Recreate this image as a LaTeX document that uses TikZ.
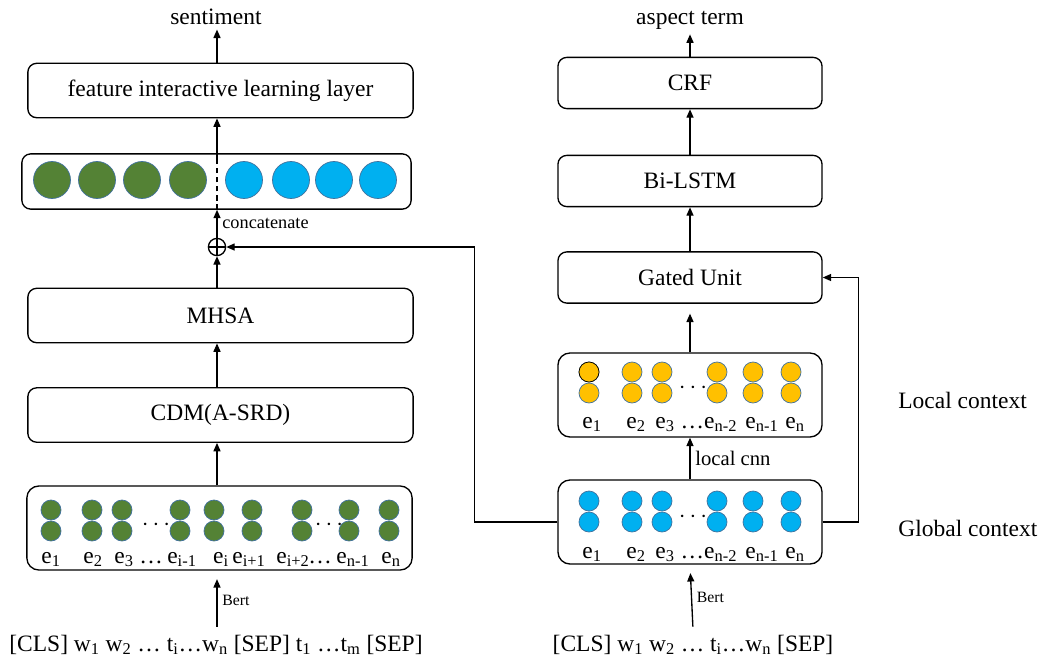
\documentclass[tikz,border=0pt]{standalone}
\usepackage{fontspec}
\setmainfont{Liberation Serif}
\usetikzlibrary{arrows.meta, positioning}
\definecolor{embgreen}{HTML}{548235}
\definecolor{embblue}{HTML}{00B0F0}
\definecolor{embyellow}{HTML}{FFC000}
\definecolor{rimblue}{HTML}{41719C}
\newcommand{\ee}[1]{e\textsubscript{#1}}

\begin{document}
\begin{tikzpicture}[
        x=0.025cm, y=-0.025cm,
        font=\fontsize{16.7}{20}\selectfont,
        line width=0.95pt,
        lbox/.style={draw, rounded corners=0.22cm, minimum width=9.63cm, minimum height=1.36cm, align=center},
        rbox/.style={draw, rounded corners=0.22cm, minimum width=6.6cm, minimum height=1.28cm, align=center},
        ebox/.style={draw, rounded corners=0.3cm, minimum height=2.1cm},
        dot/.style={circle, draw=rimblue, line width=0.5pt, minimum size=0.5cm, inner sep=0pt},
        bigdot/.style={circle, draw=rimblue, line width=0.5pt, minimum size=0.925cm, inner sep=0pt},
        elab/.style={anchor=base, inner sep=0pt},
        >={Triangle[length=6pt, width=5pt]}
      ]
        \useasboundingbox (0,0) rectangle (1046,659);

        % left branch: sentiment
        \node[anchor=base] (senti) at (216,24) {sentiment};
        \node[lbox] (feat) at (220.5,90.5) {feature interactive learning layer};
        \node[draw, rounded corners=0.22cm, minimum width=9.73cm, minimum height=1.38cm] (cat) at (216.5,181.5) {};
        \foreach \x [count=\i] in {52,97,142,188}
          \node[bigdot, fill=embgreen] (cg\i) at (\x,180) {};
        \foreach \x [count=\i] in {244,291,334,378}
          \node[bigdot, fill=embblue] (cb\i) at (\x,180) {};
        \node[circle, draw, minimum size=0.43cm, inner sep=0pt] (plus) at (217,247) {};
        \draw (plus.north) -- (plus.south) (plus.west) -- (plus.east);
        \node[lbox] (mhsa) at (220.5,315.5) {MHSA};
        \node[lbox] (cdm) at (220.5,415) {CDM(A-SRD)};
        \node[ebox, minimum width=9.63cm] (embL) at (219.5,528) {};
        \foreach \x in {51,92,122,180,214,252,302,349,389}{
          \node[dot, fill=embgreen] (gt\x) at (\x,510) {};
          \node[dot, fill=embgreen] (gb\x) at (\x,531) {};
        }
        \node (dl1) at (156,525) {$\cdots$};
        \node (dl2) at (329,525) {$\cdots$};
        \foreach \x/\t [count=\i] in {51/\ee{1}, 93/\ee{2}, 124/\ee{3}, 151/…, 182/\ee{i-1},
            221/\ee{i}, 249/\ee{i+1}, 293/\ee{i+2}, 320/…, 353/\ee{n-1}, 391/\ee{n}}
          \node[elab] (le\i) at (\x,563) {\t};
        \node[anchor=base] (inL) at (216,651) {[CLS] w\textsubscript{1} w\textsubscript{2} … t\textsubscript{i}…w\textsubscript{n} [SEP] t\textsubscript{1} …t\textsubscript{m} [SEP]};

        % right branch: aspect term
        \node[anchor=base] (aspect) at (690,24) {aspect term};
        \node[rbox] (crf) at (690,83) {CRF};
        \node[rbox] (lstm) at (690,181) {Bi-LSTM};
        \node[rbox] (gated) at (690,277.5) {Gated Unit};
        \node[ebox, minimum width=6.6cm] (loc) at (690,395) {};
        \node[ebox, minimum width=6.6cm] (glob) at (690,522) {};
        \foreach \x in {589,632,662,717,753,791}{
          \node[dot, fill=embyellow] (yt\x) at (\x,372) {};
          \node[dot, fill=embyellow] (yb\x) at (\x,393) {};
          \node[dot, fill=embblue] (bt\x) at (\x,501) {};
          \node[dot, fill=embblue] (bb\x) at (\x,522) {};
        }
        \node[dot, draw=black, fill=embyellow] (yfirst) at (589,372) {};
        \node (dr1) at (693,388) {$\cdots$};
        \node (dr2) at (693,517) {$\cdots$};
        \foreach \x/\t [count=\i] in {592/\ee{1}, 636/\ee{2}, 665/\ee{3}, 709/…\ee{n-2}, 762/\ee{n-1}, 795/\ee{n}}{
          \node[elab] (ye\i) at (\x,428) {\t};
          \node[elab] (be\i) at (\x,558) {\t};
        }
        \node[anchor=base] (inR) at (693,651) {[CLS] w\textsubscript{1} w\textsubscript{2} … t\textsubscript{i}…w\textsubscript{n} [SEP]};

        \node[anchor=west] (lctx) at (893,400) {Local context};
        \node[anchor=west] (gctx) at (893,528) {Global context};

        % connectors
        \draw[->] (feat.north -| plus) -- (senti.south -| plus);
        \draw[dashed, dash pattern=on 4pt off 2.5pt] (cat.south -| plus) -- ([yshift=-7pt]cat.north -| plus);
        \draw[->] ([yshift=-7pt]cat.north -| plus) -- (feat.south -| plus);
        \draw[->] (plus.north) -- node[right, font=\fontsize{13}{15}\selectfont]{concatenate} (cat.south -| plus);
        \draw[->] (mhsa.north -| plus) -- (plus.south);
        \draw[->] (cdm.north -| plus) -- (mhsa.south -| plus);
        \draw[->] (embL.north -| plus) -- (cdm.south -| plus);
        \draw[->, shorten <=2pt, shorten >=6pt] (inL.north -| plus) -- node[right, font=\fontsize{11.2}{13}\selectfont]{Bert} (embL.south -| plus);

        \draw[->] (crf.north) -- (aspect.south);
        \draw[->] (lstm.north) -- (crf.south);
        \draw[->] (gated.north) -- (lstm.south);
        \draw[->, shorten >=7pt] (loc.north) -- (gated.south);
        \draw[->] (glob.north) -- node[right, font=\fontsize{14.7}{17}\selectfont]{local cnn} (loc.south);
        \draw[->, shorten <=2pt, shorten >=6pt] (inR.north) -- node[right, font=\fontsize{11.2}{13}\selectfont]{Bert} (glob.south);
        \draw[->] (glob.west) -- ++(-83,0) |- (plus.east);
        \draw[->] (glob.east) -- ++(36,0) |- (gated.east);
    \end{tikzpicture}
\end{document}
